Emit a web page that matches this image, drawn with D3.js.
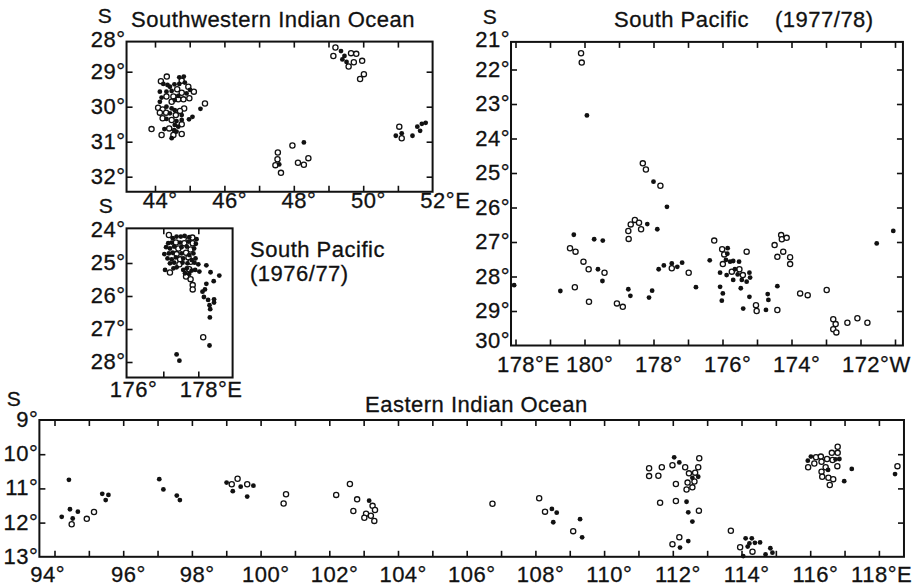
<!DOCTYPE html>
<html>
<head>
<meta charset="utf-8">
<script src="https://cdn.jsdelivr.net/npm/d3@7"></script>
<style>
body{margin:0;background:#fff;}
svg text{font-family:"Liberation Sans",Arial,sans-serif;fill:#111;stroke:#111;stroke-width:0.3px;}
</style>
</head>
<body>
<svg id="chart" width="918" height="587"></svg>
<script>
// ---- Southwestern Indian Ocean  [lon E, lat S]
var swOpen = [[44.34,29.14],[44.17,29.27],[44.77,29.26],[44.96,29.43],[44.64,29.50],[44.77,29.60],[45.12,29.57],
  [44.33,29.71],[44.53,29.71],[44.48,29.86],[44.67,29.79],[44.82,29.79],[44.99,29.76],[45.44,29.91],[44.09,30.03],
  [44.22,30.08],[44.84,30.05],[44.72,30.12],[44.14,30.17],[44.32,30.17],[44.60,30.24],[44.22,30.33],[44.48,30.38],
  [44.77,30.50],[43.90,30.64],[44.41,30.62],[44.77,30.78],[44.19,30.81],[44.53,30.81],
  [49.20,28.31],[49.14,28.55],[49.65,28.47],[49.80,28.49],[49.73,28.73],[49.58,28.85],[49.97,28.69],[50.02,29.07],[49.91,29.21],
  [47.54,31.31],[47.53,31.50],[47.47,31.67],[47.63,31.89],[47.96,31.11],[48.12,31.60],[48.29,31.66],[48.42,31.47],
  [51.04,30.57],[51.11,30.90]];
var swFilled = [[44.70,29.16],[44.83,29.14],[44.56,29.36],[44.43,29.43],[44.24,29.35],[44.36,29.38],[44.70,29.35],
  [44.86,29.31],[45.01,29.52],[44.14,29.57],[44.33,29.57],[44.48,29.55],[44.91,29.62],[44.19,29.74],[44.67,29.69],
  [44.14,29.86],[44.57,29.81],[45.31,30.06],[44.33,30.00],[44.48,30.05],[44.57,30.10],[44.43,30.19],[44.77,30.24],
  [44.98,30.36],[45.08,30.29],[44.33,30.35],[44.62,30.41],[44.77,30.38],[44.57,30.52],[44.67,30.57],[44.27,30.64],
  [44.55,30.67],[44.62,30.71],[44.48,30.90],
  [49.36,28.41],[49.46,28.55],[49.40,28.65],[49.52,28.72],
  [47.58,31.65],[48.29,31.02],
  [50.94,30.83],[51.11,30.76],[51.42,30.83],[51.56,30.57],[51.64,30.69],[51.69,30.49],[51.80,30.46]];

// ---- South Pacific 1976/77
var sp76Open = [[177.16,24.15],[177.72,24.30],[177.83,24.23],[177.36,24.38],[177.60,24.40],[177.84,24.40],[177.43,24.56],
  [177.78,24.59],[177.38,24.73],[177.65,24.69],[177.48,24.89],[177.72,24.83],[177.46,25.04],[177.78,24.96],[177.19,25.29],
  [177.74,25.19],[177.65,25.41],[177.78,25.49],[177.84,25.67],[177.84,25.80],[178.14,27.25]];
var sp76Filled = [[177.27,24.25],[177.38,24.20],[177.50,24.20],[177.61,24.18],[177.74,24.22],[177.95,24.28],[177.14,24.40],
  [177.24,24.38],[177.48,24.38],[177.72,24.35],[177.93,24.42],[177.08,24.52],[177.19,24.56],[177.31,24.50],[177.52,24.52],
  [177.67,24.50],[177.88,24.56],[177.03,24.73],[177.16,24.71],[177.27,24.69],[177.52,24.71],[177.74,24.76],[177.86,24.71],
  [177.12,24.86],[177.24,24.89],[177.36,24.83],[177.57,24.86],[177.81,24.91],[177.92,24.86],[177.19,25.01],[177.31,24.99],
  [177.55,24.99],[177.69,25.01],[177.89,24.99],[178.00,25.04],[177.05,25.21],[177.29,25.16],[177.38,25.13],[177.57,25.21],
  [177.67,25.16],[177.81,25.23],[177.91,25.21],[178.03,25.26],[177.62,25.31],[177.74,25.33],
  [178.23,25.07],[178.35,25.28],[178.60,25.38],[178.44,25.55],[178.23,25.63],[178.19,25.80],[178.12,25.87],[178.16,26.03],
  [178.28,26.12],[178.45,26.10],[178.45,26.20],[178.32,26.28],[178.34,26.40],[178.33,26.65],[178.32,27.50],[177.38,27.77],[177.46,27.96]];

// ---- South Pacific 1977/78  (lon as degrees east: 182 = 178W)
var sp77Open = [[179.90,21.53],[179.92,21.80],[181.69,24.72],[181.78,24.90],[182.20,25.37],[181.46,26.36],[181.34,26.49],
  [181.58,26.44],[181.27,26.68],[181.64,26.63],[181.28,26.91],[179.58,27.18],[179.74,27.28],[179.97,27.57],[180.12,27.79],
  [180.58,27.89],[179.72,28.31],[180.13,28.73],[180.94,28.78],[181.11,28.88],[182.53,27.76],[183.02,27.89],
  [183.99,27.21],[184.05,27.36],[184.01,27.64],[184.27,27.86],[184.49,27.79],[184.59,27.96],[184.70,27.28],[183.76,26.96],
  [185.51,27.09],[185.70,26.80],[185.72,26.92],[185.86,26.88],[185.76,27.28],[185.59,27.43],[185.96,27.44],[185.96,27.64],
  [185.59,28.97],[184.97,28.83],[184.99,29.00],[186.25,28.49],[186.47,28.54],[187.02,28.39],
  [187.21,29.24],[187.28,29.38],[187.62,29.34],[187.91,29.21],[188.20,29.34],[187.21,29.53],[187.30,29.62]];
var sp77Filled = [[180.07,23.33],[182.00,25.25],[182.39,25.98],[181.82,26.48],[182.11,26.63],[179.69,26.79],[180.28,26.92],
  [180.53,26.96],[180.39,27.79],[180.52,28.13],[179.30,28.42],[177.96,28.25],[181.27,28.37],[181.33,28.56],[181.87,28.61],
  [181.96,28.41],[182.15,27.79],[182.30,27.68],[182.53,27.62],[182.69,27.72],[182.83,27.60],[183.23,28.31],[183.63,27.53],
  [184.15,27.18],[184.14,27.34],[184.10,27.52],[184.22,27.57],[184.31,27.55],[184.48,27.57],[183.93,27.89],[184.12,27.96],
  [184.36,27.79],[184.44,27.94],[184.78,27.89],[184.80,28.03],[184.31,28.10],[184.56,28.10],[184.70,28.15],[184.53,28.34],
  [183.93,28.30],[184.01,28.49],[183.98,28.70],[184.78,28.59],
  [185.59,28.28],[185.31,28.51],[185.33,28.68],[185.26,28.97],[184.60,28.93],[188.47,27.04],[188.95,26.68]];

// ---- Eastern Indian Ocean
var eiOpen = [[94.50,12.05],[94.94,11.89],[95.15,11.69],[99.16,10.88],[99.33,10.72],[99.61,10.88],[100.74,11.17],[100.67,11.44],
  [102.20,11.19],[102.60,10.87],[102.81,11.32],[102.70,11.66],[103.07,11.74],[103.26,11.51],[103.33,11.63],[103.21,11.80],
  [103.02,11.86],[103.31,11.95],[106.75,11.45],[108.11,11.29],[108.28,11.68],[109.10,12.25],
  [112.77,10.12],[111.99,10.32],[112.36,10.38],[112.74,10.38],[111.31,10.41],[111.68,10.38],[111.31,10.64],[111.58,10.63],
  [112.47,10.56],[112.65,10.54],[112.63,10.80],[112.43,10.83],[112.09,10.87],[112.57,10.97],[112.40,11.03],[111.63,11.42],
  [112.09,11.37],[112.76,11.65],[112.19,12.43],[111.99,12.63],
  [113.69,12.24],[113.96,12.72],[114.32,12.85],
  [115.94,10.38],[116.12,10.27],[116.17,10.09],[116.31,10.07],[116.33,10.22],[116.49,10.14],[116.63,9.96],[116.80,9.78],
  [116.80,9.96],[116.65,10.17],[116.45,10.38],[116.33,10.51],[116.35,10.66],[116.53,10.69],[116.67,10.73],[116.57,10.90],
  [116.79,10.35],[118.54,10.35]];
var eiFilled = [[94.42,10.75],[94.21,11.83],[94.45,11.61],[94.53,11.88],[94.68,11.68],[95.39,11.16],[95.57,11.19],[95.49,11.34],
  [97.05,10.73],[97.17,11.03],[97.56,11.21],[97.65,11.34],[99.01,10.83],[99.19,11.08],[99.42,10.95],[99.79,10.92],[99.61,11.24],
  [103.16,11.36],[108.48,11.60],[108.62,11.71],[108.52,11.99],[109.30,11.90],[109.36,12.43],
  [112.04,10.09],[112.19,10.24],[112.57,10.69],[112.74,10.66],[112.40,11.39],[112.45,11.70],[112.57,11.97],[112.21,12.73],[112.45,12.54],
  [114.12,12.46],[114.30,12.46],[114.23,12.61],[114.39,12.59],[114.54,12.58],[114.18,12.70],[114.84,12.75],[114.90,12.88],
  [114.05,12.98],[114.70,12.93],
  [115.93,10.19],[116.02,10.07],[116.74,10.15],[116.85,10.14],[116.52,10.46],[117.21,10.43],[116.99,10.79],[118.47,10.58]];

// tick labels
var swLonLabels = [44, 46, 48, 50, 52], swLonText = ['44°', '46°', '48°', '50°', '52°E'];
var swLatLabels = [28, 29, 30, 31, 32];
var sp76LonLabels = [176, 178], sp76LonText = ['176°', '178°E'];
var sp76LatLabels = [24, 25, 26, 27, 28];
var sp77LonLabels = [178, 180, 182, 184, 186, 188], sp77LonText = ['178°E', '180°', '178°', '176°', '174°', '172°W'];
var sp77LatLabels = [21, 22, 23, 24, 25, 26, 27, 28, 29, 30];
var eiLonLabels = [94, 96, 98, 100, 102, 104, 106, 108, 110, 112, 114, 116, 118];
var eiLonText = ['94°', '96°', '98°', '100°', '102°', '104°', '106°', '108°', '110°', '112°', '114°', '116°', '118°E'];
var eiLatLabels = [9, 10, 11, 12, 13];

var svg = d3.select('#chart');
var ink = '#111';
var FS = 22;

function styleAxis(g) {
    g.select('.domain').remove();
    g.attr('font-family', null).attr('font-size', null);
    g.selectAll('line').style('stroke', ink).style('stroke-width', 1.6);
    g.selectAll('text').attr('font-size', FS).style('fill', ink).style('letter-spacing', '0.5px');
}

function panel(p) {
    var x = d3.scaleLinear().domain(p.xDom).range(p.xRng);
    var y = d3.scaleLinear().domain(p.yDom).range(p.yRng);
    var fx0 = x(p.fx[0]), fx1 = x(p.fx[1]), fy0 = y(p.fy[0]), fy1 = y(p.fy[1]);
    var g = svg.append('g');
    var tk = 6;

    //刻度
    var a;
    a = g.append('g').attr('transform', 'translate(0,' + fy1 + ')')
        .call(d3.axisBottom(x).tickValues(p.xTicks).tickSizeInner(-tk).tickSizeOuter(0).tickFormat(''));
    styleAxis(a);
    a = g.append('g').attr('transform', 'translate(0,' + fy0 + ')')
        .call(d3.axisTop(x).tickValues(p.xTicks).tickSizeInner(-tk).tickSizeOuter(0).tickFormat(''));
    styleAxis(a);
    a = g.append('g').attr('transform', 'translate(' + fx0 + ',0)')
        .call(d3.axisLeft(y).tickValues(p.yTicks).tickSizeInner(-tk).tickSizeOuter(0).tickFormat(''));
    styleAxis(a);
    if (p.right) {
        a = g.append('g').attr('transform', 'translate(' + fx1 + ',0)')
            .call(d3.axisRight(y).tickValues(p.yTicks).tickSizeInner(-tk).tickSizeOuter(0).tickFormat(''));
        styleAxis(a);
    }

    //经度标签：数字居中于刻度，度号挂在右边
    a = g.append('g').attr('transform', 'translate(0,' + fy1 + ')')
        .call(d3.axisBottom(x).tickValues(p.xLab).tickSize(0).tickPadding(p.xPad)
            .tickFormat(function (d, i) { return p.xText[i]; }));
    styleAxis(a);
    var last = p.xLab.length - 1;
    a.selectAll('text').each(function (d, i) {
        var t = this, s = t.textContent;
        var n = s.match(/^\d+/)[0].length;
        var w = t.getSubStringLength(0, n);
        var dx = i === 0 ? (p.firstDx || 0) : (i === last ? (p.lastDx || 0) : 0);
        d3.select(t).attr('text-anchor', 'start').attr('x', -w / 2 + dx);
    });

    //纬度标签（上下两端的标签稍微收进框内）
    a = g.append('g').attr('transform', 'translate(' + (fx0 - 1) + ',0)')
        .call(d3.axisLeft(y).tickValues(p.yLab).tickSize(0).tickPadding(0)
            .tickFormat(function (d) { return d + '°'; }));
    styleAxis(a);
    a.selectAll('.tick').attr('transform', function (d) {
        var yy = Math.max(y(d), fy0 - 2);
        if (p.yLift) yy = Math.min(yy, fy1 - p.yLift);
        return 'translate(0,' + yy + ')';
    });

    //边框
    g.append('rect')
        .attr('x', fx0).attr('y', fy0)
        .attr('width', fx1 - fx0).attr('height', fy1 - fy0)
        .style('fill', 'none').style('stroke', ink).style('stroke-width', 2);

    //点
    g.selectAll('circle.o').data(p.open).enter().append('circle')
        .attr('cx', function (d) { return x(d[0]); })
        .attr('cy', function (d) { return y(d[1]); })
        .attr('r', 2.6)
        .style('fill', '#fff').style('stroke', ink).style('stroke-width', 1.3);
    g.selectAll('circle.f').data(p.filled).enter().append('circle')
        .attr('cx', function (d) { return x(d[0]); })
        .attr('cy', function (d) { return y(d[1]); })
        .attr('r', 2.4)
        .style('fill', ink);

    //标题
    p.texts.forEach(function (t) {
        g.append('text').attr('x', t[0]).attr('y', t[1]).attr('font-size', t[4] || FS)
            .attr('text-anchor', t[3] || 'start').style('letter-spacing', '0.5px').text(t[2]);
    });
}

panel({
    xDom: [44, 52], xRng: [155, 432.6], yDom: [29, 32], yRng: [71.7, 176.7],
    fx: [43.18, 52], fy: [28.14, 32.43],
    xTicks: d3.range(44, 52), yTicks: [29, 30, 31, 32], right: true,
    xLab: swLonLabels, xText: swLonText, yLab: swLatLabels, xPad: 1,
    open: swOpen, filled: swFilled,
    texts: [[105, 23, 'S', 'middle', 21], [131, 27, 'Southwestern  Indian  Ocean']]
});

panel({
    xDom: [176, 178], xRng: [128.3, 198.3], yDom: [24, 28], yRng: [230, 362],
    fx: [175.95, 178.98], fy: [23.95, 28.47],
    xTicks: [177, 178], yTicks: [25, 26, 27, 28], right: false,
    xLab: sp76LonLabels, xText: sp76LonText, yLab: sp76LatLabels, xPad: 4,
    open: sp76Open, filled: sp76Filled,
    texts: [[106, 213, 'S', 'middle', 21], [250, 257, 'South Pacific'], [250, 281, '(1976/77)']]
});

panel({
    xDom: [180, 188], xRng: [584.5, 860.5], yDom: [27, 29], yRng: [242, 311],
    fx: [177.87, 189.23], fy: [21.2, 30],
    xTicks: d3.range(178, 190), yTicks: d3.range(22, 30), right: true,
    xLab: sp77LonLabels, xText: sp77LonText, yLab: sp77LatLabels, xPad: 11, yLift: 5,
    open: sp77Open, filled: sp77Filled,
    texts: [[490, 24, 'S', 'middle', 21], [614, 27, 'South  Pacific'], [775, 27, '(1977/78)']]
});

panel({
    xDom: [94, 118], xRng: [54.5, 878.9], yDom: [9, 13], yRng: [420, 556.8],
    fx: [93.56, 118.73], fy: [9, 13],
    xTicks: d3.range(94, 119), yTicks: [10, 11, 12], right: true,
    xLab: eiLonLabels, xText: eiLonText, yLab: eiLatLabels, xPad: 10, firstDx: -12, lastDx: -10,
    open: eiOpen, filled: eiFilled,
    texts: [[14, 406, 'S', 'middle', 21], [365, 412, 'Eastern  Indian  Ocean']]
});
</script>
</body>
</html>
